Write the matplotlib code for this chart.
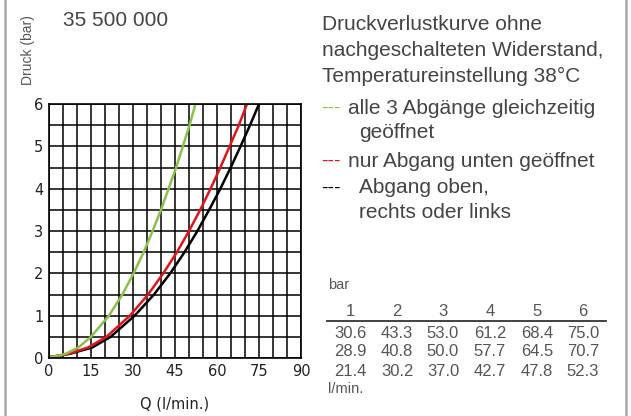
import numpy as np
import matplotlib
matplotlib.use('Agg')
import matplotlib.pyplot as plt
from matplotlib.lines import Line2D

# DATA FOR THE CHART
# table: pressure (bar) vs flow (l/min) for the three outlet settings
bar_steps = [1, 2, 3, 4, 5, 6]
flow_top = [30.6, 43.3, 53.0, 61.2, 68.4, 75.0]      # Abgang oben, rechts oder links
flow_bottom = [28.9, 40.8, 50.0, 57.7, 64.5, 70.7]   # nur Abgang unten
flow_all = [21.4, 30.2, 37.0, 42.7, 47.8, 52.3]      # alle 3 Abgaenge

# curves (Q in l/min, p in bar)
p_curve = [0.02, 0.05, 0.1, 0.25, 0.5, 1.0, 1.5, 2.0, 2.5, 3.0, 3.5, 4.0, 4.5, 5.0, 5.5, 6.0]
q_black = [0.0, 3.0, 7.5, 15.5, 22.0, 30.6, 37.5, 43.3, 48.4, 53.0, 57.2, 61.2, 64.9, 68.4, 71.8, 75.0]
q_red = [0.0, 3.0, 7.0, 14.0, 20.5, 28.9, 35.4, 40.8, 45.7, 50.0, 54.0, 57.7, 61.2, 64.5, 67.8, 70.7]
q_green = [0.0, 3.0, 6.0, 10.5, 15.0, 21.4, 26.2, 30.2, 33.8, 37.0, 40.0, 42.7, 45.4, 47.8, 50.2, 52.3]

x_ticks = [0, 15, 30, 45, 60, 75, 90]
y_ticks = [0, 1, 2, 3, 4, 5, 6]

GREEN = '#8cc04b'
RED = '#e3131b'
TXT = '#444444'
GREY = '#555555'

W, H = 631, 416
fig = plt.figure(figsize=(W / 100, H / 100), dpi=100)

def fx(px):
    return px / W

def fy(py):
    return 1 - py / H

ax = fig.add_axes([fx(49), fy(358), fx(301) - fx(49), fy(104) - fy(358)])
ax.set_xlim(0, 90)
ax.set_ylim(0, 6)
ax.set_xticks(x_ticks)
ax.set_xticks(np.arange(0, 91, 5), minor=True)
ax.set_yticks(y_ticks)
ax.set_yticks(np.arange(0, 6.01, 0.5), minor=True)
ax.grid(True, which='both', color='black', linewidth=1.1)
ax.set_axisbelow(True)
ax.tick_params(which='both', length=0)
ax.tick_params(labelsize=10.5, colors='#222222', pad=4)
for sp in ax.spines.values():
    sp.set_linewidth(1.2)

ax.plot(q_black, p_curve, color='black', lw=1.8, solid_capstyle='butt')
ax.plot(q_red, p_curve, color=RED, lw=1.8, solid_capstyle='butt')
ax.plot(q_green, p_curve, color=GREEN, lw=1.8, solid_capstyle='butt')

ax.set_xlabel('Q (l/min.)', fontsize=10.5, color='#222222', labelpad=13)

font = dict(family=['Liberation Sans', 'DejaVu Sans'])

fig.text(fx(28), fy(50), 'Druck (bar)', rotation=90, ha='center', va='center',
         fontsize=10, color='#555555', **font)

fig.text(fx(63), fy(20), '35 500 000', ha='left', va='center', fontsize=15,
         color=TXT, **font)

# description / legend text on the right
desc = ['Druckverlustkurve ohne', 'nachgeschalteten Widerstand,',
        'Temperatureinstellung 38°C']
for i, line in enumerate(desc):
    fig.text(fx(322), fy(24 + i * 26), line, ha='left', va='center',
             fontsize=15, color=TXT, **font)

legend_rows = [(GREEN, 'alle 3 Abgänge gleichzeitig', 108, 348),
               (None, 'geöffnet', 133, 359),
               (RED, 'nur Abgang unten geöffnet', 161, 348),
               ('black', 'Abgang oben,', 188, 359),
               (None, 'rechts oder links', 212, 359)]
for col, label, ypx, xpx in legend_rows:
    if col is not None:
        fig.text(fx(321), fy(ypx), '---', ha='left', va='center',
                 fontsize=14, color=col, **font)
    fig.text(fx(xpx), fy(ypx), label, ha='left', va='center',
             fontsize=15, color=TXT, **font)

# value table
col_x = [350, 397, 443, 490, 537, 583]
fig.text(fx(328), fy(285), 'bar', ha='left', va='center', fontsize=10.5,
         color=GREY, **font)
for xpx, b in zip(col_x, bar_steps):
    fig.text(fx(xpx), fy(311), str(b), ha='center', va='center', fontsize=12,
             color=GREY, **font)
fig.add_artist(Line2D([fx(327), fx(606)], [fy(321), fy(321)], color='#333333',
                      lw=1.3, transform=fig.transFigure))
for row, ypx in zip([flow_top, flow_bottom, flow_all], [334, 352, 371]):
    for xpx, v in zip(col_x, row):
        fig.text(fx(xpx), fy(ypx), f'{v:.1f}', ha='center', va='center',
                 fontsize=12, color=GREY, **font)
fig.text(fx(328), fy(389), 'l/min.', ha='left', va='center', fontsize=10.5,
         color=GREY, **font)

# frame lines left and right
for xpx in [5, 626]:
    fig.add_artist(Line2D([fx(xpx), fx(xpx)], [0, 1], color='#a8a8a8', lw=1.8,
                          transform=fig.transFigure))

fig.savefig('out.png', dpi=100)
